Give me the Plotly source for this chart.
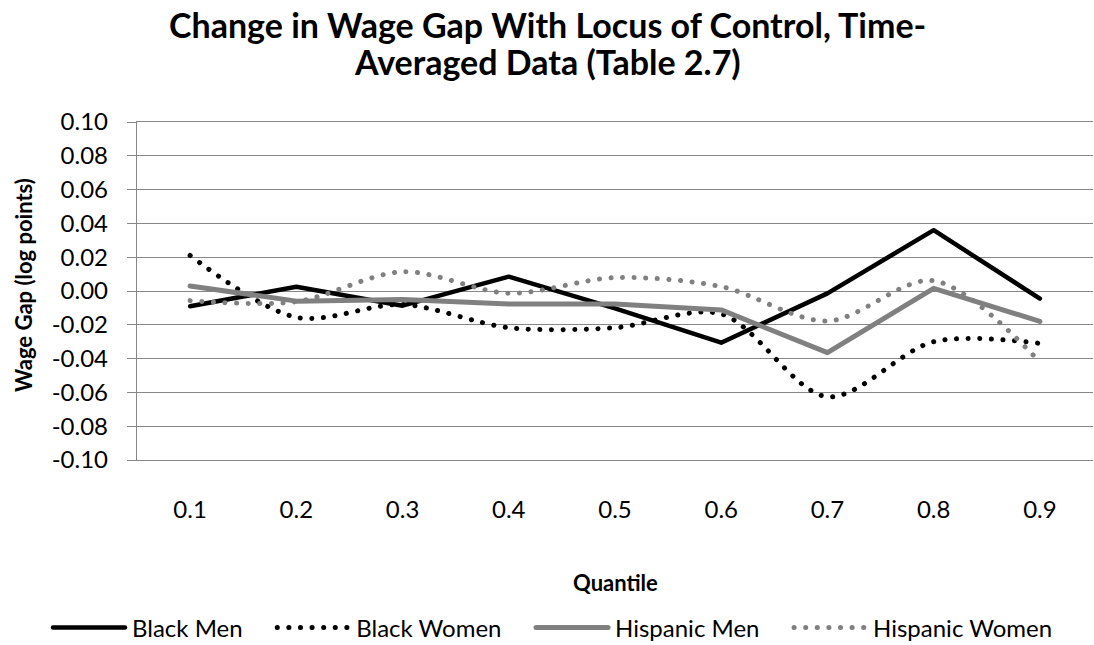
import plotly.graph_objects as go

# Quantiles on the category axis
quantiles = [0.1, 0.2, 0.3, 0.4, 0.5, 0.6, 0.7, 0.8, 0.9]
quantile_labels = ["0.1", "0.2", "0.3", "0.4", "0.5", "0.6", "0.7", "0.8", "0.9"]

# Change in wage gap (log points) by group
black_men = [-0.009, 0.0025, -0.0087, 0.0085, -0.0103, -0.0306, -0.0014, 0.036, -0.0045]
black_women = [0.021, -0.0156, -0.008, -0.0217, -0.0217, -0.0136, -0.0626, -0.030, -0.031]
hispanic_men = [0.003, -0.006, -0.005, -0.0077, -0.0077, -0.0112, -0.0365, 0.0016, -0.018]
hispanic_women = [-0.0057, -0.0063, 0.0114, -0.0013, 0.0079, 0.0026, -0.0178, 0.0061, -0.042]

y_tick_vals = [0.10, 0.08, 0.06, 0.04, 0.02, 0.00, -0.02, -0.04, -0.06, -0.08, -0.10]
y_tick_text = ["0.10", "0.08", "0.06", "0.04", "0.02", "0.00",
               "-0.02", "-0.04", "-0.06", "-0.08", "-0.10"]

# Category band edges, used for the tick marks on the zero line
band_edges = [0.05, 0.15, 0.25, 0.35, 0.45, 0.55, 0.65, 0.75, 0.85, 0.95]

title_lines = ["Change in Wage Gap With Locus of Control, Time-",
               "Averaged Data (Table 2.7)"]

FONT = "Lato"
GRID = "#878787"
GREY = "#808080"
DOTS = "0.1px,11.5px"
PAD = "\u00a0" * 4  # spacing after a legend entry

# Plot area in pixels: x 137..1093, y 122..460
PL, PR, PT, PB = 137, 1093, 122, 460


def px_x(x):
    return (x - PL) / (PR - PL)


def px_y(y):
    return (PB - y) / (PB - PT)


fig = go.Figure()
fig.add_trace(go.Scatter(x=quantiles, y=black_men, name="Black Men" + PAD, mode="lines",
                         line=dict(color="#000000", width=4.5)))
fig.add_trace(go.Scatter(x=quantiles, y=black_women, name="Black Women" + PAD, mode="lines",
                         line=dict(color="#000000", width=5, dash=DOTS,
                                   shape="spline", smoothing=0.9)))
fig.add_trace(go.Scatter(x=quantiles, y=hispanic_men, name="Hispanic Men" + PAD, mode="lines",
                         line=dict(color=GREY, width=5)))
fig.add_trace(go.Scatter(x=quantiles, y=hispanic_women, name="Hispanic Women", mode="lines",
                         line=dict(color=GREY, width=5, dash=DOTS,
                                   shape="spline", smoothing=0.9)))

fig.update_layout(
    width=1094, height=645, autosize=False,
    margin=dict(l=PL, r=1094 - PR, t=PT, b=645 - PB, autoexpand=False),
    paper_bgcolor="white", plot_bgcolor="white",
    font=dict(family=FONT, color="#000000"),
    xaxis=dict(range=[0.05, 0.95], tickvals=quantiles, ticktext=quantile_labels,
               showgrid=False, zeroline=False, showline=True, mirror=True,
               linecolor=GRID, linewidth=1.3, ticks="",
               tickangle=0, ticklabelstandoff=28, tickfont=dict(family=FONT, size=24)),
    xaxis2=dict(range=[0.05, 0.95], overlaying="x", anchor="free", position=0.5,
                side="bottom", tickvals=band_edges, showticklabels=False,
                ticks="outside", ticklen=7, tickwidth=1.3, tickcolor=GRID,
                showline=True, linecolor=GRID, linewidth=1.3, showgrid=False, zeroline=False),
    yaxis=dict(range=[-0.10, 0.10], tickvals=y_tick_vals, ticktext=y_tick_text,
               showgrid=True, gridcolor=GRID, gridwidth=1.3,
               zeroline=False, showline=True, linecolor=GRID, linewidth=1.3,
               ticks="outside", ticklen=9, tickwidth=1.3, tickcolor=GRID,
               ticklabelstandoff=14, tickfont=dict(family=FONT, size=24)),
    legend=dict(orientation="h", x=px_x(48), xref="paper", xanchor="left",
                y=px_y(628), yref="paper", yanchor="middle",
                font=dict(family=FONT, size=24), itemwidth=74,
                tracegroupgap=0),
    showlegend=True,
)

# Two-line chart title
for line_text, y_pix in zip(title_lines, [25, 62]):
    fig.add_annotation(text="<b>" + line_text + "</b>", xref="paper", yref="paper",
                       x=px_x(547), y=px_y(y_pix), xanchor="center", yanchor="middle",
                       showarrow=False, font=dict(family=FONT, size=34))

fig.add_annotation(text="<b>Quantile</b>", xref="paper", yref="paper",
                   x=0.5, y=px_y(582), xanchor="center", yanchor="middle",
                   showarrow=False, font=dict(family=FONT, size=22))
fig.add_annotation(text="<b>Wage Gap (log points)</b>", xref="paper", yref="paper",
                   x=px_x(23), y=px_y(285), xanchor="center", yanchor="middle",
                   textangle=-90, showarrow=False, font=dict(family=FONT, size=22))

# Round line caps so the dotted series render as round dots,
# and longer line samples in the legend
post = """
var gd = document.getElementById('{plot_id}');
gd.querySelectorAll('path.js-line').forEach(function(p){
  p.style.strokeLinecap = 'round';
  p.style.strokeLinejoin = 'round';
});
gd.querySelectorAll('.legend .legendlines path').forEach(function(p){
  p.setAttribute('d', 'M5,0h72');
});
"""
fig.write_html("out.html", post_script=post)
